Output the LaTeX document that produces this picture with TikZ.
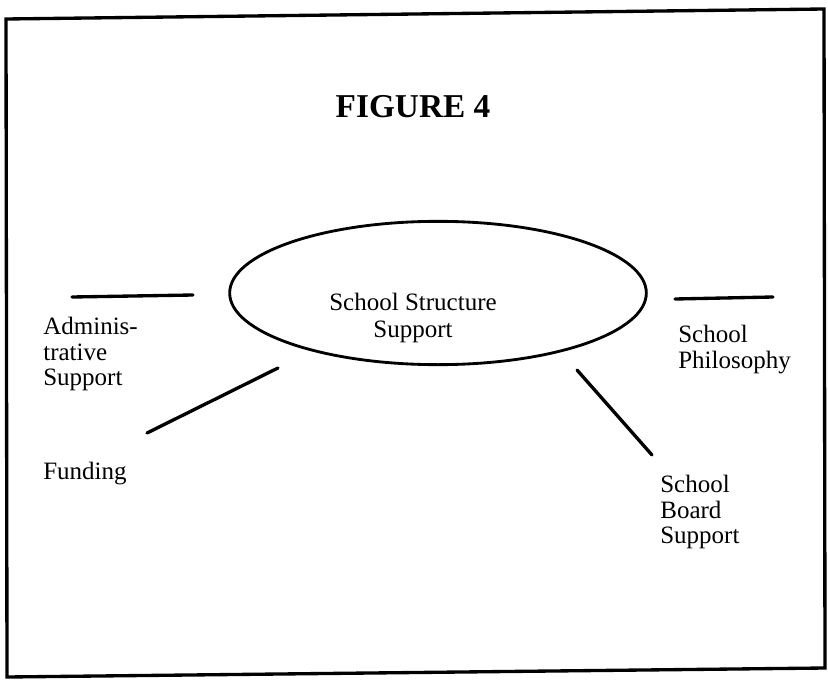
\documentclass[tikz,border=0pt]{standalone}
\usepackage{fontspec}
\setmainfont{Liberation Serif}
\usetikzlibrary{shapes.geometric,positioning}

\begin{document}
\begin{tikzpicture}[x=0.6pt,y=-0.6pt,
    labeltext/.style={font=\fontsize{15}{15.3}\selectfont, align=left, anchor=north west, inner sep=0pt},
    spoke/.style={line width=2pt, line cap=round}]
            \useasboundingbox (0,0) rectangle (828,680);

            % Draw the frame
            \draw[line width=2pt] (6,19) -- (824,9) -- (825,668) -- (7,677) -- cycle;

            % Title
            \node (title) at (413,107) {\fontsize{20}{24}\selectfont\bfseries FIGURE 4};

            % Define the central ellipse
            \node (hub) [draw, ellipse, line width=1.7pt,
                minimum width=250pt, minimum height=86pt] at (438,293) {};
            \node (hubtext) [align=center, font=\fontsize{15}{16}\selectfont] at (413,318)
                {School Structure\\Support};

            % Add labels round the ellipse
            \node (admin) [labeltext] at (43,317) {Adminis-\\trative\\Support};
            \node (fund) [labeltext] at (43,462) {Funding};
            \node (philo) [labeltext] at (678,325) {School\\Philosophy};
            \node (board) [labeltext] at (660,475) {School\\Board\\Support};

            % Draw the spokes
            \coordinate (admin-a) at (72,297);
            \coordinate (admin-b) at (193,295);
            \coordinate (fund-a) at (147,433);
            \coordinate (fund-b) at (278,368);
            \coordinate (philo-a) at (675,299);
            \coordinate (philo-b) at (773,297);
            \coordinate (board-a) at (577,370);
            \coordinate (board-b) at (652,455);
            \foreach \n in {admin,fund,philo,board} {
                    \draw[spoke] (\n-a) -- (\n-b);
                }

        \end{tikzpicture}
\end{document}
